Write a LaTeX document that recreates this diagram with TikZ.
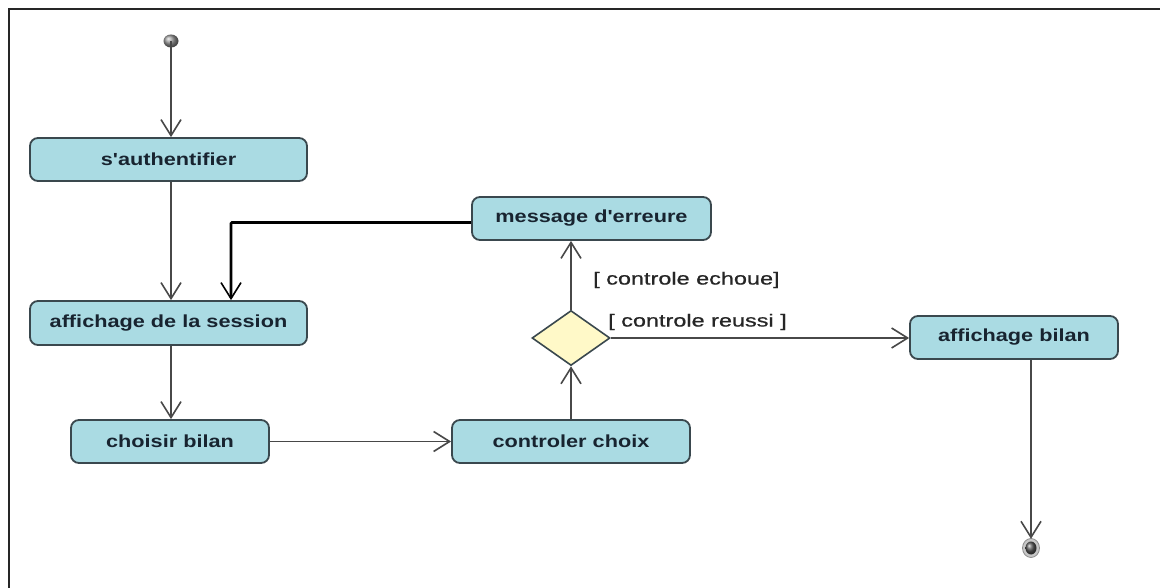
\documentclass[tikz,border=0pt]{standalone}
\usepackage{fontspec}
\setmainfont{Liberation Sans}
\newfontfamily\guardfont[FakeBold=0.7]{Liberation Sans}
\usetikzlibrary{arrows.meta,shapes.geometric}
\definecolor{actfill}{RGB}{170,219,227}
\definecolor{actdraw}{RGB}{58,72,78}
\definecolor{acttext}{RGB}{24,36,48}
\definecolor{decfill}{RGB}{255,249,200}
\definecolor{flow}{RGB}{72,72,72}
\newcommand{\acttxt}[1]{\scalebox{1.24}[1]{\bfseries #1}}
\newcommand{\guardtxt}[1]{\scalebox{1.34}[1]{\guardfont #1}}
\begin{document}
\begin{tikzpicture}[x=1pt,y=-1pt,
  font=\fontsize{17.5}{20}\selectfont,
  activity/.style={draw=actdraw, line width=1.8pt, fill=actfill, rounded corners=8pt,
    text=acttext, minimum height=43pt, inner sep=0pt},
  decision/.style={diamond, draw=actdraw, line width=1.6pt, fill=decfill,
    minimum width=78pt, minimum height=55pt, inner sep=0pt},
  guard/.style={anchor=west, text=black!85, inner sep=0pt},
  flowline/.style={draw=flow, line width=1.8pt,
    -{Straight Barb[length=16pt,width=20pt,line width=1.6pt]}},
  backline/.style={draw=black, line width=2.6pt,
    -{Straight Barb[length=16pt,width=20pt,line width=1.6pt]}}]
  \useasboundingbox (0,0) rectangle (1160,588);
  \fill[white] (0,0) rectangle (1160,588);
  % frame
  \draw[black!85, line width=2.6pt] (9,588) -- (9,9) -- (1160,9);

  % start and end points
  \shade[ball color=gray!80] (171,41) ellipse (7.5pt and 6.5pt);
  \node[circle, minimum size=0pt, inner sep=0pt] (init) at (171,41) {};
  \fill[black!22] (1031,548) ellipse (8.5pt and 9.5pt);
  \draw[black!45, line width=0.8pt] (1031,548) ellipse (8.5pt and 9.5pt);
  \shade[ball color=black!65] (1031,548) ellipse (5.5pt and 6.5pt);
  \node[circle, minimum size=0pt, inner sep=0pt] (fin) at (1031,539) {};

  % actions
  \node[activity, minimum width=277pt] (auth)  at (168.5,159.5) {\acttxt{s\textquotesingle authentifier}};
  \node[activity, minimum width=277pt, minimum height=44pt] (sess) at (168.5,323) {\acttxt{affichage de la session}};
  \node[activity, minimum width=198pt] (choix) at (170,441.5) {\acttxt{choisir bilan}};
  \node[activity, minimum width=238pt] (ctrl)  at (571,441.5) {\acttxt{controler choix}};
  \node[activity, minimum width=239pt] (err)   at (591.5,218.5) {\acttxt{message d\textquotesingle erreure}};
  \node[activity, minimum width=208pt] (bilan) at (1014,337.5) {\acttxt{affichage bilan}};
  \node[decision] (dec) at (571,338) {};

  % guards
  \node[guard] (g1) at (593,280) {\guardtxt{[ controle echoue]}};
  \node[guard] (g2) at (608,322) {\guardtxt{[ controle reussi ]}};

  % flows
  \coordinate (bend) at (231,222.5);
  \draw[flowline] (init) -- (init |- auth.north);
  \draw[flowline] (auth.south -| init) -- (sess.north -| init);
  \draw[flowline] (sess.south -| init) -- (choix.north -| init);
  \draw[flowline] (choix.east) -- (ctrl.west);
  \draw[flowline] (ctrl.north -| dec) -- (dec.south);
  \draw[flowline] (dec.north) -- (dec.north |- err.south);
  \draw[flowline] (dec.east) -- (dec.east -| bilan.west);
  \draw[flowline] (fin |- bilan.south) -- (fin);
  \draw[backline, rounded corners=1pt] (err.west |- bend) -- (bend) -- (bend |- sess.north);
\end{tikzpicture}
\end{document}
